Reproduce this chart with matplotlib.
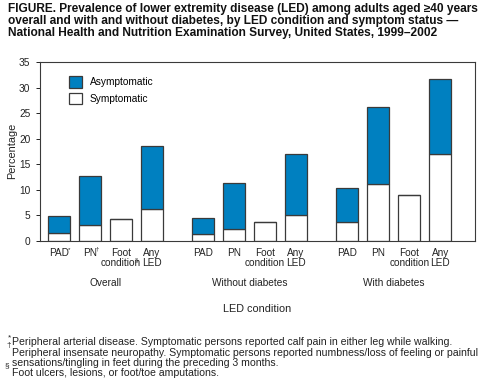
import matplotlib.pyplot as plt
import numpy as np

plt.rcParams['font.family'] = ['Liberation Sans', 'DejaVu Sans']

groups = ['Overall', 'Without diabetes', 'With diabetes']
conditions = ['PAD', 'PN', 'Foot\ncondition', 'Any\nLED']
marks = ['*', '\u2020', '\u00a7', '']
# total prevalence and symptomatic part, per group
total = [[4.9, 12.7, 4.25, 18.6],
         [4.4, 11.3, 3.65, 17.1],
         [10.3, 26.2, 8.9, 31.6]]
symptomatic = [[1.5, 3.1, 4.25, 6.2],
               [1.3, 2.35, 3.65, 5.0],
               [3.65, 11.1, 8.9, 17.0]]

blue = '#0080c0'
edge = '#3a3a3a'
tc = '#222222'

fig = plt.figure(figsize=(4.93, 3.91), dpi=100)
ax = fig.add_axes([40/493, 1-241/391, 435/493, 179/391])

xs, tot, sym, labels = [], [], [], []
for g in range(3):
    for i in range(4):
        xs.append(g*4.65 + i)
        tot.append(total[g][i])
        sym.append(symptomatic[g][i])
        labels.append(conditions[i])
xs = np.array(xs); tot = np.array(tot); sym = np.array(sym)

ax.bar(xs, sym, width=0.71, color='white', edgecolor=edge, linewidth=0.9, label='Symptomatic')
ax.bar(xs, tot - sym, bottom=sym, width=0.71, color=blue, edgecolor=edge, linewidth=0.9, label='Asymptomatic')

ax.set_xlim(-0.61, 13.42)
ax.set_ylim(0, 35)
ax.set_yticks(range(0, 36, 5))
ax.set_xticks(xs)
ax.set_xticklabels(labels, fontsize=7.2, linespacing=1.0, color=tc, va='top')
ax.tick_params(axis='x', length=0, pad=5)
ax.tick_params(axis='y', labelsize=7.3, length=3, width=0.7, colors=tc, pad=4)
for s in ax.spines.values():
    s.set_color(edge); s.set_linewidth(0.8)
fig.text(12/493, 1-151/391, 'Percentage', fontsize=7.8, color=tc, rotation=90, ha='center', va='center')

# footnote marks on the overall labels
mark_off = [(6.3, -4), (4.3, -4), (10.0, -12)]
for i in range(3):
    ax.annotate(marks[i], (xs[i], 0), xycoords='data', xytext=mark_off[i], textcoords='offset points',
                fontsize=4.4, color=tc, ha='left', va='top', annotation_clip=False)

for g in range(3):
    fig.text((59 + (g*4.65 + 1.5)*31)/493, 1-283/391, groups[g], fontsize=7.3, ha='center', va='center', color=tc)
fig.text(257/493, 1-309/391, 'LED condition', fontsize=7.8, ha='center', va='center', color=tc)

h, l = ax.get_legend_handles_labels()
ax.legend(h[::-1], l[::-1], loc='upper left', bbox_to_anchor=(0.045, 0.97), frameon=False,
          fontsize=7.3, handlelength=1.3, handleheight=1.3, labelspacing=0.55, handletextpad=0.8)

fig.text(8/493, 1-3/391, 'FIGURE. Prevalence of lower extremity disease (LED) among adults aged \u226540 years\n'
         'overall and with and without diabetes, by LED condition and symptom status \u2014\n'
         'National Health and Nutrition Examination Survey, United States, 1999\u20132002',
         fontsize=8.6, fontweight='bold', va='top', ha='left', linespacing=1.0, color='#111')

notes = ['Peripheral arterial disease. Symptomatic persons reported calf pain in either leg while walking.',
         'Peripheral insensate neuropathy. Symptomatic persons reported numbness/loss of feeling or painful',
         'sensations/tingling in feet during the preceding 3 months.',
         'Foot ulcers, lesions, or foot/toe amputations.']
note_y = [342, 352.5, 363, 373]
for n, y in zip(notes, note_y):
    fig.text(12/493, 1-y/391, n, fontsize=7.6, ha='left', va='center', color=tc)
for m, x, y in zip(['*', '\u2020', '\u00a7'], [8, 6.5, 5], [338, 345, 366]):
    fig.text(x/493, 1-y/391, m, fontsize=6, ha='left', va='center', color=tc)

fig.savefig('out.png', dpi=100)
